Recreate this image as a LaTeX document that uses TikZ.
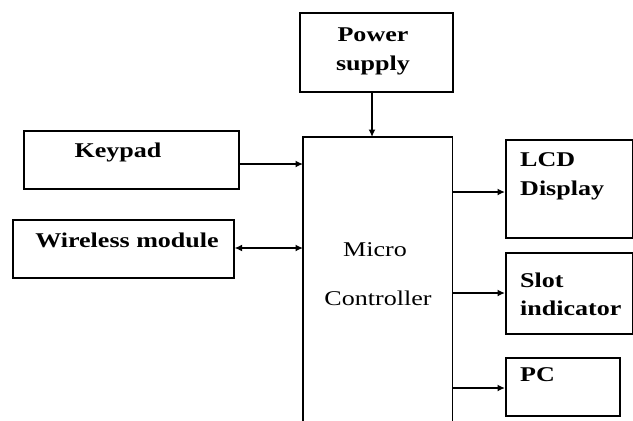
\documentclass[tikz,border=0pt]{standalone}
\usepackage{fontspec}
\setmainfont{Liberation Serif}
\usetikzlibrary{arrows.meta}
\newcommand{\wtx}[1]{\scalebox{1.24}[1]{#1}}
\begin{document}
\begin{tikzpicture}[x=1pt,y=-1pt,
  box/.style={draw, line width=1.6pt, inner sep=0, anchor=north west},
  lbl/.style={font=\bfseries\fontsize{21}{21}\selectfont, inner sep=0},
  mlbl/.style={font=\fontsize{21}{21}\selectfont, inner sep=0},
  tip/.style={Latex[length=7.5pt,width=7pt]},
  conn/.style={line width=1.6pt, -{Latex[length=7.5pt,width=7pt]}},
  dconn/.style={line width=1.6pt, {Latex[length=7.5pt,width=7pt]}-{Latex[length=7.5pt,width=7pt]}}]
\useasboundingbox (0,0) rectangle (633,421);
% boxes
\node[box, minimum width=153pt, minimum height=79pt] (power) at (299,12) {};
\node[box, minimum width=215pt, minimum height=58pt] (keypad) at (23,130) {};
\node[box, minimum width=221pt, minimum height=58pt] (wireless) at (12,219) {};
\node[inner sep=0, anchor=north west, minimum width=149pt, minimum height=290pt] (micro) at (303,137) {};
\draw[line width=1.6pt] (micro.south west) -- (micro.north west) -- (micro.north east) -- (micro.south east);
\node[box, minimum width=126.5pt, minimum height=98pt] (lcd) at (505,139) {};
\node[box, minimum width=126.5pt, minimum height=81pt] (slot) at (505,252) {};
\node[box, minimum width=114pt, minimum height=58pt] (pc) at (505,357) {};
% texts
\node[lbl] (tpower1) at (373,35) {\wtx{Power}};
\node[lbl] (tpower2) at (373,65) {\wtx{supply}};
\node[lbl] (tkeypad) at (118,152) {\wtx{Keypad}};
\node[lbl] (twireless) at (127,240) {\wtx{Wireless module}};
\node[mlbl] (tmicro1) at (375,250) {\wtx{Micro}};
\node[mlbl] (tmicro2) at (378,298) {\wtx{Controller}};
\node[lbl, anchor=west] (tlcd1) at (520,160) {\wtx{LCD}};
\node[lbl, anchor=west] (tlcd2) at (520,190) {\wtx{Display}};
\node[lbl, anchor=west] (tslot1) at (520,280) {\wtx{Slot}};
\node[lbl, anchor=west] (tslot2) at (520,308) {\wtx{indicator}};
\node[lbl, anchor=west] (tpc) at (520,375) {\wtx{PC}};
% connectors
\draw[conn] (power.south -| 372,0) -- (micro.north -| 372,0);
\draw[conn] (keypad.east |- 0,164) -- (micro.west |- 0,164);
\draw[dconn] (wireless.east |- 0,248) -- (micro.west |- 0,248);
\draw[conn] (micro.east |- 0,192) -- (lcd.west |- 0,192);
\draw[conn] (micro.east |- 0,293) -- (slot.west |- 0,293);
\draw[conn] (micro.east |- 0,388) -- (pc.west |- 0,388);
\end{tikzpicture}
\end{document}
